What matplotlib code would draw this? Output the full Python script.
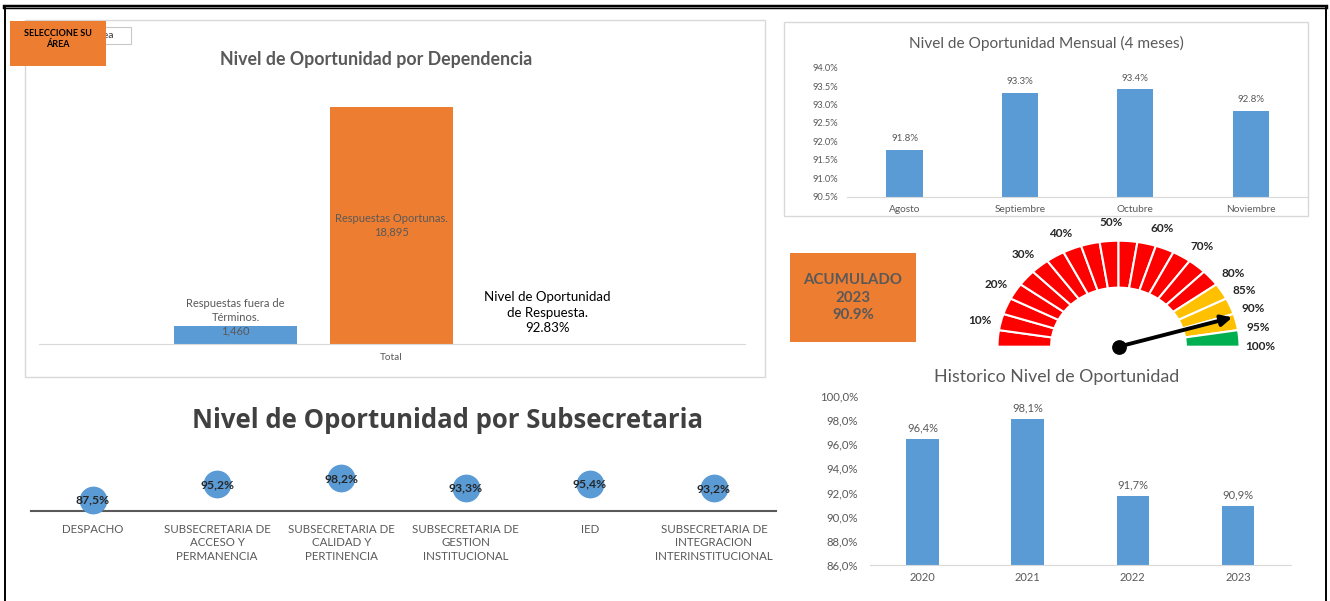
import matplotlib
matplotlib.use("Agg")
import matplotlib.pyplot as plt
from matplotlib.patches import Rectangle, Wedge
from matplotlib.lines import Line2D
import numpy as np

plt.rcParams['font.family'] = ['Lato', 'DejaVu Sans']

# ---------------- data ----------------
dep_series = ["Respuestas fuera de\nTérminos.", "Respuestas Oportunas.",
              "Nivel de Oportunidad\nde Respuesta."]
dep_values = [1460, 18895, 92.83]
dep_category = "Total"

months = ["Agosto", "Septiembre", "Octubre", "Noviembre"]
monthly_pct = [91.77, 93.32, 93.42, 92.83]

years = ["2020", "2021", "2022", "2023"]
hist_pct = [96.4, 98.1, 91.7, 90.9]

subsec = ["DESPACHO",
          "SUBSECRETARIA DE\nACCESO Y\nPERMANENCIA",
          "SUBSECRETARIA DE\nCALIDAD Y\nPERTINENCIA",
          "SUBSECRETARIA DE\nGESTION\nINSTITUCIONAL",
          "IED",
          "SUBSECRETARIA DE\nINTEGRACION\nINTERINSTITUCIONAL"]
subsec_pct = [87.5, 95.2, 98.2, 93.3, 95.4, 93.2]

acumulado_year = 2023
acumulado_pct = 90.9

gauge_steps = [5] * 20                     # each gauge segment = 5 %
gauge_bands = [80, 95, 100]                # red up to 80, yellow up to 95, green to 100
gauge_labels = [10, 20, 30, 40, 50, 60, 70, 80, 85, 90, 95, 100]

# ---------------- styles ----------------
BLUE = '#5B9BD5'
ORANGE = '#ED7D31'
GRAY = '#595959'
BAND_COLORS = ['#FF0000', '#FFC000', '#00B050']

W, H = 1330, 601


def rect(x0, y0, x1, y1):
    return [x0 / W, 1 - y1 / H, (x1 - x0) / W, (y1 - y0) / H]


def fx(x):
    return x / W


def fy(y):
    return 1 - y / H


fig = plt.figure(figsize=(13.3, 6.01), dpi=100)
fig.patch.set_facecolor('white')

# outer frame
fig.add_artist(Line2D([fx(5), fx(1326)], [fy(7), fy(7)], lw=3.2, color='black',
                      transform=fig.transFigure))
fig.add_artist(Line2D([fx(5), fx(1326)], [fy(7), fy(7)], lw=0.6, color='#9a9a9a',
                      transform=fig.transFigure))
for xx in (5, 1326):
    fig.add_artist(Line2D([fx(xx), fx(xx)], [fy(7), 0], lw=1.4, color='black',
                          transform=fig.transFigure))

# ---------------- panel 1: dependencia ----------------
fig.add_artist(Rectangle((fx(25), fy(377)), 740 / W, 357 / H, fill=False,
                         ec='#D9D9D9', lw=1, transform=fig.transFigure))
fig.text(fx(376), fy(59), "Nivel de Oportunidad por Dependencia", ha='center',
         va='center', fontsize=12.8, weight='bold', color=GRAY)

ax1 = fig.add_axes(rect(39, 93.1, 745, 344))
offs = np.arange(len(dep_values)) - 1
face = [BLUE, ORANGE, 'none']
ax1.bar(offs, dep_values, width=0.79, color=face, edgecolor='none')
ax1.set_xlim(-2.26, 2.266)
ax1.set_ylim(0, 20000)
ax1.set_yticks([])
ax1.set_xticks([0])
ax1.set_xticklabels([dep_category], fontsize=7.2, color=GRAY)
ax1.tick_params(axis='x', length=0, pad=6.5)
for s in ('left', 'right', 'top'):
    ax1.spines[s].set_visible(False)
ax1.spines['bottom'].set_color('#D9D9D9')
ax1.patch.set_alpha(0)

ax1.annotate(f"{dep_series[0]}\n{dep_values[0]:,.0f}", (offs[0], dep_values[0]),
             xytext=(0, 8 * 0.72), textcoords='offset points', ha='center', va='center',
             fontsize=8, color=GRAY, linespacing=1.3)
ax1.text(offs[1], dep_values[1] / 2, f"{dep_series[1]}\n{dep_values[1]:,.0f}",
         ha='center', va='center', fontsize=8, color=GRAY, linespacing=1.3)
ax1.annotate(f"{dep_series[2]}\n{dep_values[2]:.2f}%", (offs[2], dep_values[2]),
             xytext=(0, 30 * 0.72), textcoords='offset points', ha='center', va='center',
             fontsize=9.5, color='black', linespacing=1.35)

# selector box
fig.add_artist(Rectangle((fx(62), fy(44)), 69 / W, 17 / H, fc='white', ec='#C8C8C8',
                         lw=0.8, transform=fig.transFigure, zorder=5))
fig.text(fx(114), fy(36), "Área", ha='right', va='center', fontsize=7.5, color='#333333',
         zorder=6)
fig.add_artist(Rectangle((fx(10), fy(65.7)), 96 / W, 44.7 / H, fc=ORANGE, ec='none',
                         transform=fig.transFigure, zorder=7))
fig.text(fx(58), fy(39), "SELECCIONE SU\nÁREA", ha='center', va='center', fontsize=6.5,
         weight='bold', color='black', linespacing=1.35, zorder=8)

# ---------------- panel 2: mensual ----------------
fig.add_artist(Rectangle((fx(784), fy(216)), 524 / W, 194 / H, fill=False,
                         ec='#D9D9D9', lw=1, transform=fig.transFigure))
fig.text(fx(1046), fy(43.3), "Nivel de Oportunidad Mensual (4 meses)", ha='center',
         va='center', fontsize=11.1, color=GRAY)
ax2 = fig.add_axes(rect(846.8, 67.7, 1308.4, 196.7))
xm = np.arange(len(months))
ax2.bar(xm, monthly_pct, width=0.315, color=BLUE)
ax2.set_xlim(-0.5, len(months) - 0.5)
ax2.set_ylim(90.5, 94.0)
yt = np.arange(90.5, 94.01, 0.5)
ax2.set_yticks(yt)
ax2.set_yticklabels([f"{v:.1f}%" for v in yt], fontsize=6.7, color=GRAY)
ax2.set_xticks(xm)
ax2.set_xticklabels(months, fontsize=7.3, color=GRAY)
ax2.tick_params(axis='both', length=0)
ax2.tick_params(axis='y', pad=6.3)
ax2.tick_params(axis='x', pad=6)
for s in ('left', 'right', 'top'):
    ax2.spines[s].set_visible(False)
ax2.spines['bottom'].set_color('#D9D9D9')
for i, v in enumerate(monthly_pct):
    ax2.annotate(f"{v:.1f}%", (xm[i], v), xytext=(0, 11 * 0.72), textcoords='offset points',
                 ha='center', va='center', fontsize=7, color=GRAY, annotation_clip=False)

# ---------------- acumulado box ----------------
fig.add_artist(Rectangle((fx(790), fy(342)), 126 / W, 89 / H, fc=ORANGE, ec='none',
                         transform=fig.transFigure))
fig.text(fx(853), fy(297.5), f"ACUMULADO\n{acumulado_year}\n{acumulado_pct:.1f}%",
         ha='center', va='center', fontsize=10.8, weight='bold', color=GRAY, linespacing=1.3)

# ---------------- gauge ----------------
cx, cy, ux, uy = 1118.5, 346.7, 121.0, 106.0
gx0, gx1, gy0, gy1 = -1.25, 1.45, -0.12, 1.28
axg = fig.add_axes(rect(cx + gx0 * ux, cy - gy1 * uy, cx + gx1 * ux, cy - gy0 * uy))
axg.set_xlim(gx0, gx1)
axg.set_ylim(gy0, gy1)
axg.axis('off')
start = 0
for step in gauge_steps:
    end = start + step
    band = next(i for i, b in enumerate(gauge_bands) if end <= b)
    t1 = 180 * (1 - end / 100)
    t2 = 180 * (1 - start / 100)
    axg.add_patch(Wedge((0, 0), 1.0, t1, t2, width=0.443, fc=BAND_COLORS[band],
                        ec='white', lw=1.5))
    start = end
for p in gauge_labels:
    ang = 180 * (1 - p / 100)
    if ang > 95:
        ang += 6
    elif ang > 85:
        ang += 3
    r = 1.17
    axg.text(r * np.cos(np.radians(ang)), r * np.sin(np.radians(ang)), f"{p}%",
             ha='center', va='center', fontsize=8.5, weight='bold', color='#262626')
na = np.radians(180 * (1 - acumulado_pct / 100))
axg.annotate('', xy=(0.98 * np.cos(na), 0.98 * np.sin(na)), xytext=(0, 0),
             arrowprops=dict(arrowstyle='-|>', lw=2.8, color='black', mutation_scale=16,
                             shrinkA=0, shrinkB=0))
axg.plot([0], [0], 'o', ms=9.6, color='black')

# ---------------- historico ----------------
fig.text(fx(1057), fy(376.7), "Historico Nivel de Oportunidad", ha='center', va='center',
         fontsize=12.8, color=GRAY)
ax3 = fig.add_axes(rect(870, 395.7, 1290.5, 565))
xh = np.arange(len(years))
ax3.bar(xh, hist_pct, width=0.31, color=BLUE)
ax3.set_xlim(-0.5, len(years) - 0.5)
ax3.set_ylim(86, 100)
yt3 = np.arange(86, 100.1, 2)
ax3.set_yticks(yt3)
ax3.set_yticklabels([f"{v:.1f}%".replace('.', ',') for v in yt3], fontsize=8.2, color=GRAY)
ax3.set_xticks(xh)
ax3.set_xticklabels(years, fontsize=8, color=GRAY)
ax3.tick_params(axis='both', length=0)
ax3.tick_params(axis='y', pad=8.6)
ax3.tick_params(axis='x', pad=5)
for s in ('left', 'right', 'top'):
    ax3.spines[s].set_visible(False)
ax3.spines['bottom'].set_color('#D9D9D9')
for i, v in enumerate(hist_pct):
    ax3.annotate(f"{v:.1f}%".replace('.', ','), (xh[i], v), xytext=(0, 11 * 0.72),
                 textcoords='offset points', ha='center', va='center', fontsize=8,
                 color=GRAY, annotation_clip=False)

# ---------------- subsecretaria ----------------
fig.text(fx(447), fy(421), "Nivel de Oportunidad por Subsecretaria", ha='center',
         va='center', fontsize=18.5, weight='bold', color='#404040', family='Open Sans')
ax4 = fig.add_axes(rect(30.9, 474.7, 776, 511.2))
xs = np.arange(len(subsec))
ax4.plot(xs, subsec_pct, linestyle='none', marker='o', ms=19, color=BLUE,
         clip_on=False, zorder=3)
for i, v in enumerate(subsec_pct):
    ax4.text(xs[i], v, f"{v:.1f}%".replace('.', ','), ha='center', va='center',
             fontsize=8.7, weight='bold', color='#262626', zorder=4)
ax4.set_xlim(-0.5, len(subsec) - 0.5)
ax4.set_ylim(82, 100)
ax4.set_yticks([])
ax4.set_xticks(xs)
ax4.set_xticklabels(subsec, fontsize=8.3, color=GRAY, linespacing=1.28)
ax4.tick_params(axis='x', length=0, pad=9)
for s in ('left', 'right', 'top'):
    ax4.spines[s].set_visible(False)
ax4.spines['bottom'].set_color('#595959')
ax4.spines['bottom'].set_linewidth(1.5)
ax4.patch.set_alpha(0)

fig.savefig("out.png", dpi=100)
